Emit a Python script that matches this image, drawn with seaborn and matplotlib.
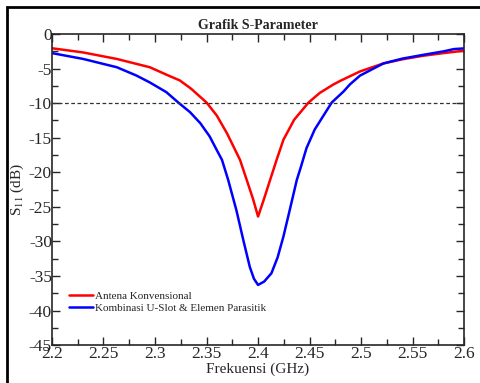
import matplotlib
matplotlib.use("Agg")
import matplotlib.pyplot as plt
from matplotlib.patches import Rectangle
from matplotlib.ticker import MultipleLocator
import pandas as pd
import seaborn as sns

# datos (frecuencia en GHz, S11 en dB)
freq_konv = [2.200, 2.230, 2.263, 2.295, 2.313, 2.324, 2.335, 2.350, 2.360, 2.370,
             2.3825, 2.389, 2.395, 2.400, 2.405, 2.4117, 2.418, 2.4246, 2.435,
             2.449, 2.460, 2.473, 2.480, 2.499, 2.5216, 2.540, 2.5605, 2.580, 2.600]
s11_konv = [-2.05, -2.65, -3.6, -4.8, -6.0, -6.7, -7.9, -9.9, -11.8, -14.4,
            -18.2, -21.1, -23.8, -26.4, -24.2, -21.1, -18.2, -15.3, -12.4,
            -9.9, -8.5, -7.3, -6.75, -5.4, -4.25, -3.65, -3.13, -2.75, -2.4]

freq_uslot = [2.200, 2.2304, 2.263, 2.282, 2.295, 2.311, 2.3226, 2.334, 2.344, 2.353,
              2.360, 2.365, 2.371, 2.379, 2.386, 2.392, 2.396, 2.400, 2.406, 2.413,
              2.419, 2.4246, 2.431, 2.4376, 2.441, 2.447, 2.455, 2.4715, 2.483,
              2.489, 2.499, 2.5216, 2.540, 2.5605, 2.580, 2.590, 2.600]
s11_uslot = [-2.75, -3.6, -4.8, -6.0, -7.0, -8.4, -9.9, -11.3, -12.9, -14.8,
             -16.8, -18.2, -21.1, -25.5, -30.0, -33.7, -35.4, -36.3, -35.8, -34.6,
             -32.3, -29.3, -25.3, -21.1, -19.5, -16.5, -13.8, -9.9, -8.3,
             -7.3, -6.0, -4.25, -3.55, -3.0, -2.5, -2.17, -2.07]

label_konv = "Antena Konvensional"
label_uslot = "Kombinasi U-Slot & Elemen Parasitik"

df = pd.concat([
    pd.DataFrame({"f": freq_konv, "s11": s11_konv, "antena": label_konv}),
    pd.DataFrame({"f": freq_uslot, "s11": s11_uslot, "antena": label_uslot}),
])

sns.set_style("ticks")
plt.rcParams["font.family"] = ["Liberation Serif", "DejaVu Serif"]
plt.rcParams["mathtext.fontset"] = "stix"
plt.rcParams["axes.unicode_minus"] = False

fig = plt.figure(figsize=(4.81, 3.83), dpi=100)
ax = fig.add_axes([0.108, 0.099, 0.857, 0.812])

sns.lineplot(data=df, x="f", y="s11", hue="antena", sort=False,
             palette={label_konv: "#ff0000", label_uslot: "#0000ff"},
             linewidth=1.8, ax=ax, estimator=None)

ax.axhline(-10, color="#333333", linestyle=(0, (3, 2)), linewidth=0.9)

ax.set_xlim(2.2, 2.6)
ax.set_ylim(-45, 0)
ax.xaxis.set_minor_locator(MultipleLocator(0.025))
ax.yaxis.set_major_locator(MultipleLocator(5))
ax.yaxis.set_minor_locator(MultipleLocator(2.5))
ax.set_xticks([2.2, 2.25, 2.3, 2.35, 2.4, 2.45, 2.5, 2.55, 2.6])
ax.set_xticklabels(["2.2", "2.25", "2.3", "2.35", "2.4", "2.45", "2.5", "2.55", "2.6"])
ax.tick_params(which="both", direction="in", top=True, right=True, labelsize=12.5)
ax.tick_params(which="major", length=6, width=1)
ax.tick_params(which="minor", length=4, width=1)
ax.tick_params(axis="x", pad=1)
ax.tick_params(axis="y", pad=0)
for sp in ax.spines.values():
    sp.set_linewidth(1.2)

ax.set_title("Grafik S-Parameter", fontsize=10, fontweight="bold", pad=4)
ax.set_xlabel("Frekuensi (GHz)", fontsize=11, labelpad=0)
ax.set_ylabel("S$_{11}$ (dB)", fontsize=11)
ax.yaxis.set_label_coords(-0.062, 0.5)

ax.legend(loc="lower left", bbox_to_anchor=(0.03, 0.09), frameon=False,
          fontsize=8, handlelength=2.2, handletextpad=0.2, labelspacing=0.15,
          borderaxespad=0)

# marco exterior de la figura
fig.patches.append(Rectangle((7 / 481, -0.05), 1.1, 1.05 - 7 / 383,
                             transform=fig.transFigure, fill=False,
                             edgecolor="black", linewidth=2))

fig.savefig("out.png", dpi=100)
